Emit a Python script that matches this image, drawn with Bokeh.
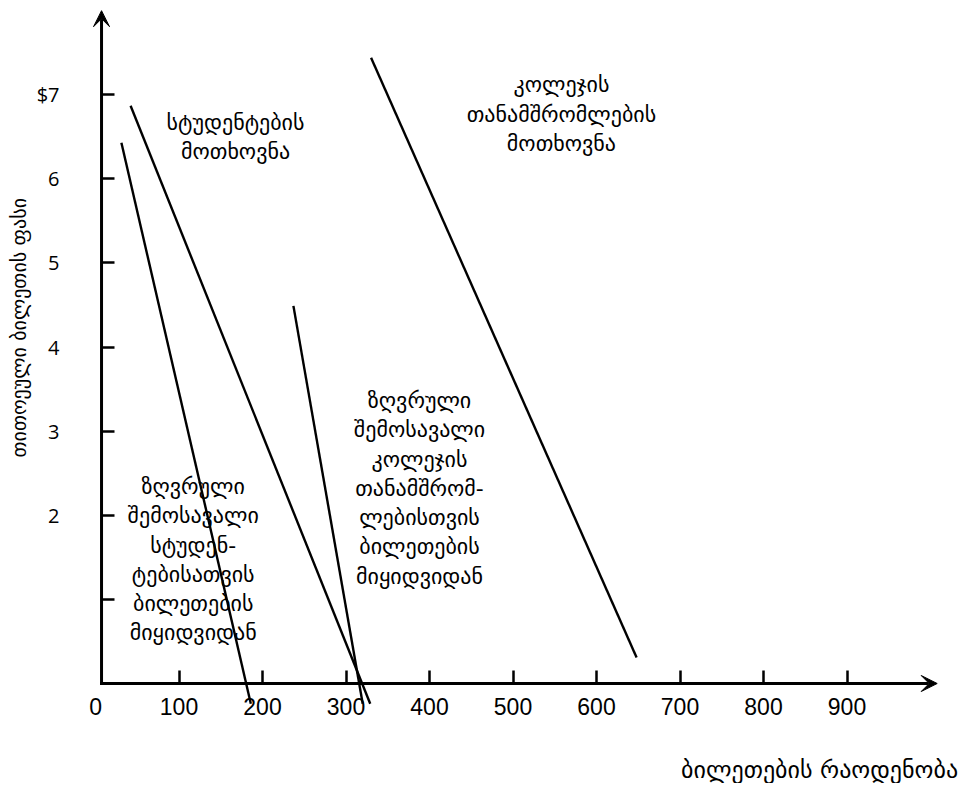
import math
from bokeh.plotting import figure
from bokeh.models import (Range1d, LinearAxis, FixedTicker, Arrow, VeeHead, Label)
from bokeh.embed import file_html
from bokeh.resources import INLINE

# ---- data ----
student_demand_q = [42, 329]
student_demand_p = [6.87, -0.24]
student_mr_q = [31, 186]
student_mr_p = [6.43, -0.24]
staff_demand_q = [330, 648]
staff_demand_p = [7.44, 0.31]
staff_mr_q = [237, 320]
staff_mr_p = [4.49, -0.24]

x_ticks = [100, 200, 300, 400, 500, 600, 700, 800, 900]
y_ticks = [1, 2, 3, 4, 5, 6, 7]
y_tick_labels = {1: "", 2: "2", 3: "3", 4: "4", 5: "5", 6: "6", 7: "$7"}

x_title = "ბილეთების რაოდენობა"
y_title = "თითოეული ბილეთის ფასი"
lbl_student_demand = "სტუდენტების\nმოთხოვნა"
lbl_staff_demand = "კოლეჯის\nთანამშრომლების\nმოთხოვნა"
lbl_student_mr = "ზღვრული\nშემოსავალი\nსტუდენ-\nტებისათვის\nბილეთების\nმიყიდვიდან"
lbl_staff_mr = "ზღვრული\nშემოსავალი\nკოლეჯის\nთანამშრომ-\nლებისთვის\nბილეთების\nმიყიდვიდან"

GEO = "DejaVu Sans"
AXIS_X = 7.2     # where the vertical axis stands
X_END = 1008
Y_END = 8.0

p = figure(width=965, height=783, output_backend="svg", toolbar_location=None,
           x_range=Range1d(-113.8, 1041.9), y_range=Range1d(-1.189, 8.121),
           min_border=0, x_axis_type=None, y_axis_type=None)
p.grid.visible = False
p.outline_line_color = None
p.background_fill_color = None
p.border_fill_color = "white"

# axes (ticks and labels from Bokeh, lines drawn as arrows)
def style_x(ax):
    ax.axis_line_color = None
    ax.minor_tick_line_color = None
    ax.major_label_text_font = "Liberation Sans"
    ax.major_label_text_font_size = "23px"
    ax.major_label_text_color = "black"
    ax.major_label_standoff = 14

xa = LinearAxis(ticker=FixedTicker(ticks=x_ticks), fixed_location=0)
style_x(xa)
xa.major_tick_in = 13
xa.major_tick_out = 0
xa.major_tick_line_width = 2.5
xa.major_tick_line_color = "black"
p.add_layout(xa, "below")

xa0 = LinearAxis(ticker=FixedTicker(ticks=[0]), fixed_location=0)
style_x(xa0)
xa0.major_tick_line_color = None
xa0.major_tick_in = 0
xa0.major_tick_out = 0
p.add_layout(xa0, "below")

ya = LinearAxis(ticker=FixedTicker(ticks=y_ticks), fixed_location=AXIS_X,
                major_label_overrides=y_tick_labels)
ya.axis_line_color = None
ya.major_tick_in = 13
ya.major_tick_out = 0
ya.major_tick_line_width = 2.5
ya.major_tick_line_color = "black"
ya.minor_tick_line_color = None
ya.major_label_text_font = "Open Sans"
ya.major_label_text_font_size = "20px"
ya.major_label_text_color = "black"
ya.major_label_standoff = 42
p.add_layout(ya, "left")

head = dict(size=16, fill_color="black", line_color="black", line_width=1)
p.add_layout(Arrow(end=VeeHead(**head), x_start=AXIS_X, y_start=0, x_end=X_END, y_end=0,
                   line_width=3, line_color="black", line_cap="square"))
p.add_layout(Arrow(end=VeeHead(**head), x_start=AXIS_X, y_start=0, x_end=AXIS_X, y_end=Y_END,
                   line_width=3, line_color="black", line_cap="square"))

# curves
for q, pr in [(student_demand_q, student_demand_p), (student_mr_q, student_mr_p),
              (staff_demand_q, staff_demand_p), (staff_mr_q, staff_mr_p)]:
    p.line(q, pr, line_color="black", line_width=2.4)

def lab(text, x, y, size="22px", **kw):
    p.add_layout(Label(text=text, x=x, y=y, text_align="center", text_baseline="middle",
                       text_font=GEO, text_font_size=size, text_color="black",
                       text_line_height=1.17, **kw))

lab(lbl_student_demand, 167.7, 6.50)
lab(lbl_staff_demand, 558, 6.77)
lab(lbl_staff_mr, 388, 2.32)
lab(lbl_student_mr, 117, 1.47)

p.add_layout(Label(text=x_title, x=1033, y=-1.03, text_align="right", text_baseline="middle",
                   text_font=GEO, text_font_size="24px", text_color="black"))
p.add_layout(Label(text=y_title, x=-92.2, y=4.23, angle=math.pi / 2, text_align="center",
                   text_baseline="middle", text_font=GEO, text_font_size="20px",
                   text_color="black"))

open("out.html", "w").write(file_html(p, INLINE))
